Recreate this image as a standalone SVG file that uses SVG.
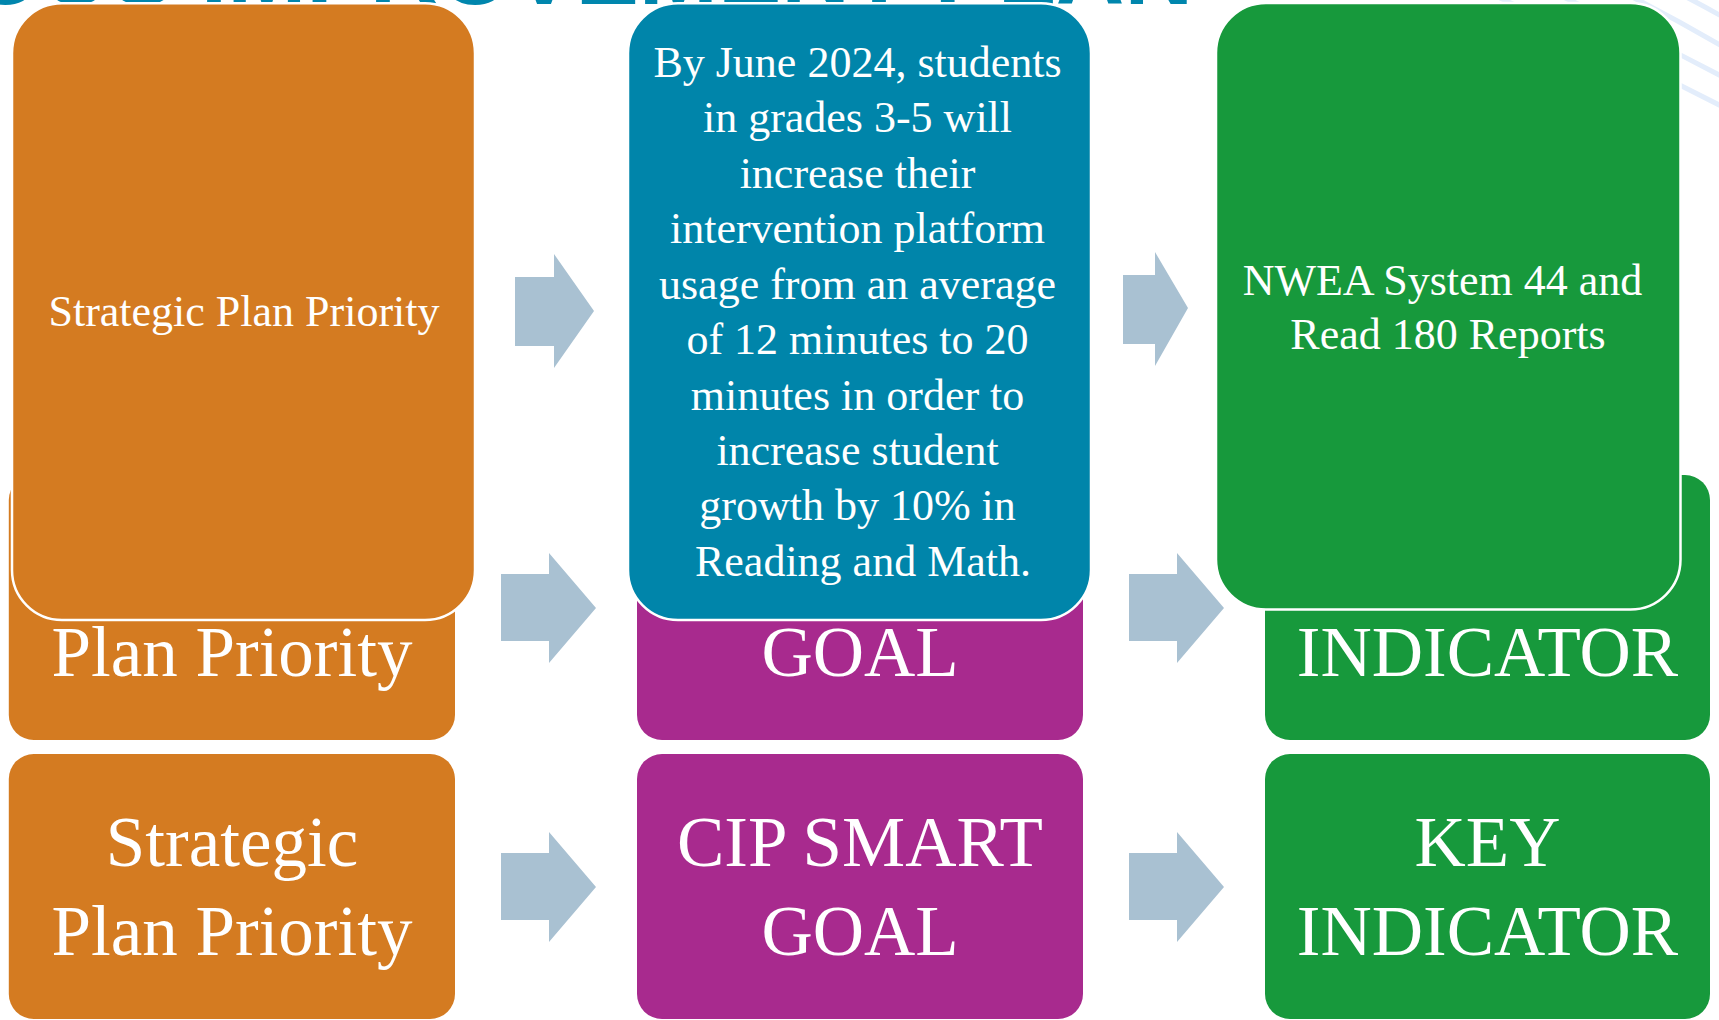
<svg xmlns="http://www.w3.org/2000/svg" width="1719" height="1020" viewBox="0 0 1719 1020">
<style>
  .t{font-family:"Liberation Serif","Times New Roman",serif;fill:#ffffff;text-anchor:middle}
  .s{font-size:44px}
  .b{font-size:71px}
  .ttl{font-family:"Liberation Sans",Arial,sans-serif;font-weight:bold;font-size:95px;fill:#0086AD;text-anchor:end}
  .deco{fill:none;stroke:#E3EDFB;stroke-width:5}
  .arr{fill:#A9C1D2}
  .top{stroke:#ffffff;stroke-width:2.5}
  .or{fill:#D47B21}.bl{fill:#0085AA}.pu{fill:#A82A8E}.gr{fill:#17993C}
</style>
<rect width="1719" height="1020" fill="#ffffff"/>
<g id="background">
  <path class="deco" d="M1650,-21 Q1690,-2 1730,21"/>
  <path class="deco" d="M1600,-19 Q1664,12 1725,48"/>
  <path class="deco" d="M1540,-14 Q1634,30 1725,78"/>
  <path class="deco" d="M1500,-2 Q1614,51 1725,108"/>
  <text class="ttl" x="1193" y="3.5">CONTINUOUS IMPROVEMENT PLAN</text>
</g>
<g id="row3-priority">
  <rect class="or" x="8.8" y="754" width="446.2" height="265" rx="25"/>
  <text class="t b" x="232" y="866">Strategic</text>
  <text class="t b" x="232" y="955">Plan Priority</text>
</g>
<g id="row3-goal">
  <rect class="pu" x="637" y="754" width="446" height="265" rx="25"/>
  <text class="t b" x="860" y="866">CIP SMART</text>
  <text class="t b" x="860" y="955">GOAL</text>
</g>
<g id="row3-indicator">
  <rect class="gr" x="1265" y="754" width="445" height="265" rx="25"/>
  <text class="t b" x="1487.5" y="866">KEY</text>
  <text class="t b" x="1487.5" y="955">INDICATOR</text>
</g>
<g id="row2-priority">
  <rect class="or" x="8.8" y="475" width="446.2" height="265" rx="25"/>
  <text class="t b" x="232" y="676">Plan Priority</text>
</g>
<g id="row2-goal">
  <rect class="pu" x="637" y="475" width="446" height="265" rx="25"/>
  <text class="t b" x="860" y="676">GOAL</text>
</g>
<g id="row2-indicator">
  <rect class="gr" x="1265" y="475" width="445" height="265" rx="25"/>
  <text class="t b" x="1487.5" y="676">INDICATOR</text>
</g>
<g id="top-priority">
  <rect class="or top" x="12" y="3.3" width="463" height="616.7" rx="50"/>
  <text class="t s" x="244" y="326">Strategic Plan Priority</text>
</g>
<g id="top-goal">
  <rect class="bl top" x="628" y="3.3" width="463" height="616.7" rx="50"/>
  <text class="t s" x="863">
    <tspan x="863" y="77">By June 2024, students</tspan>
    <tspan x="863" y="132.4">in grades 3-5 will</tspan>
    <tspan x="863" y="187.9">increase their</tspan>
    <tspan x="863" y="243.3">intervention platform</tspan>
    <tspan x="863" y="298.7">usage from an average</tspan>
    <tspan x="863" y="354.1">of 12 minutes to 20</tspan>
    <tspan x="863" y="409.5">minutes in order to</tspan>
    <tspan x="863" y="465">increase student</tspan>
    <tspan x="863" y="520.4">growth by 10% in</tspan>
    <tspan x="863" y="575.8">Reading and Math.</tspan>
  </text>
</g>
<g id="top-indicator">
  <rect class="gr top" x="1216" y="3" width="464.5" height="606.5" rx="50"/>
  <text class="t s" x="1448">
    <tspan x="1448" y="295">NWEA System 44 and</tspan>
    <tspan x="1448" y="349">Read 180 Reports</tspan>
  </text>
</g>
<g id="connectors">
  <polygon class="arr" points="515,277 554,277 554,254 594,311 554,368 554,346 515,346"/>
  <polygon class="arr" points="1123,275 1155,275 1155,252 1188,308 1155,366 1155,344 1123,344"/>
  <polygon class="arr" points="501,574 549,574 549,553 596,608 549,663 549,641 501,641"/>
  <polygon class="arr" points="1129,574 1177,574 1177,553 1224,608 1177,663 1177,641 1129,641"/>
  <polygon class="arr" points="501,853 549,853 549,832 596,887 549,942 549,920 501,920"/>
  <polygon class="arr" points="1129,853 1177,853 1177,832 1224,887 1177,942 1177,920 1129,920"/>
</g>
</svg>
